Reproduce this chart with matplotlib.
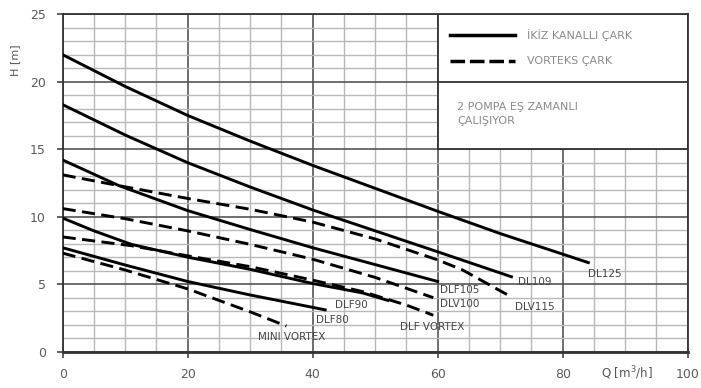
import numpy as np
import matplotlib.pyplot as plt
from matplotlib.patches import Rectangle

# pump curves: Q [m3/h] and H [m]
dl125_q = [0, 10, 20, 30, 40, 50, 60, 70, 84.1]
dl125_h = [22.0, 19.65, 17.5, 15.6, 13.8, 12.1, 10.4, 8.75, 6.6]

dl109_q = [0, 10, 20, 30, 40, 50, 60, 71.8]
dl109_h = [18.3, 16.05, 14.0, 12.2, 10.5, 8.95, 7.4, 5.55]

dlf105_q = [0, 9, 20, 30, 40, 50, 60]
dlf105_h = [14.2, 12.3, 10.45, 9.05, 7.7, 6.45, 5.2]

dlv115_q = [0, 9, 20, 30, 40, 50, 60, 64, 71.8]
dlv115_h = [13.1, 12.3, 11.35, 10.55, 9.6, 8.35, 6.8, 6.05, 4.05]

dlv100_q = [0, 10, 20, 30, 40, 50, 59.3]
dlv100_h = [10.6, 9.85, 8.95, 7.95, 6.85, 5.5, 4.0]

dlf90_q = [0, 5, 11, 20, 30, 40, 48, 52]
dlf90_h = [9.9, 8.95, 7.95, 7.0, 6.1, 5.05, 4.35, 3.8]

dlfv_q = [0, 11, 20, 30, 40, 48, 55, 59.3]
dlfv_h = [8.5, 7.85, 7.1, 6.3, 5.3, 4.45, 3.45, 2.7]

dlf80_q = [0, 10, 20, 30, 42]
dlf80_h = [7.7, 6.42, 5.2, 4.2, 3.1]

mini_q = [0, 10, 20, 30, 35.8]
mini_h = [7.3, 6.05, 4.65, 2.95, 1.9]

solid = [(dl125_q, dl125_h), (dl109_q, dl109_h), (dlf105_q, dlf105_h),
         (dlf90_q, dlf90_h), (dlf80_q, dlf80_h)]
dashed = [(dlv115_q, dlv115_h), (dlv100_q, dlv100_h), (dlfv_q, dlfv_h),
          (mini_q, mini_h)]

# curve names and where they sit
curve_names = ["DL125", "DL109", "DLV115", "DLF105", "DLV100",
               "DLF VORTEX", "DLF90", "DLF80", "MINI VORTEX"]
name_q = [84.0, 72.9, 72.4, 60.4, 60.4, 54.0, 43.6, 40.6, 31.3]
name_h = [5.75, 5.16, 3.33, 4.57, 3.53, 1.85, 3.46, 2.35, 1.09]

fig = plt.figure(figsize=(7.01, 3.88), dpi=100)
ax = fig.add_axes([0.0894, 0.0936, 0.8916, 0.8698])

ax.set_xlim(0, 100)
ax.set_ylim(0, 25)
ax.set_xticks(np.arange(0, 101, 20))
ax.set_xticks(np.arange(0, 101, 5), minor=True)
ax.set_yticks(np.arange(0, 26, 5))
ax.set_yticks(np.arange(0, 26, 1), minor=True)

ax.grid(which="minor", color="#b8b8b8", lw=1.0, zorder=0)
ax.grid(which="major", color="#555555", lw=1.2, zorder=0)
ax.tick_params(which="minor", length=0)
ax.tick_params(which="major", length=4, width=1.2, color="#444444",
               labelsize=9, labelcolor="#5a5a5a", pad=8)
for s in ax.spines.values():
    s.set_color("#333333")
    s.set_linewidth(1.3)
ax.spines["bottom"].set_linewidth(2.0)

# white legend box in the top right corner
ax.add_patch(Rectangle((60, 15), 40, 10, facecolor="white", edgecolor="#333333",
                       lw=1.3, zorder=2))
ax.plot([60, 100], [20, 20], color="#333333", lw=1.3, zorder=3)

for q, h in solid:
    ax.plot(q, h, color="black", lw=2.1, zorder=4)
for q, h in dashed:
    ax.plot(q, h, color="black", lw=2.1, zorder=4, dashes=(4.5, 2.2))

for name, q, h in zip(curve_names, name_q, name_h):
    ax.text(q, h, name, fontsize=7.5, color="#444444", ha="left", va="center",
            zorder=5)

# legend
ax.plot([62.0, 72.4], [23.45, 23.45], color="black", lw=2.5, zorder=4)
ax.plot([62.0, 72.4], [21.55, 21.55], color="black", lw=2.5, zorder=4,
        dashes=(4.2, 1.4))
ax.text(74.3, 23.45, "İKİZ KANALLI ÇARK", fontsize=8, color="#8a8a8a",
        va="center", zorder=5)
ax.text(74.3, 21.55, "VORTEKS ÇARK", fontsize=8, color="#8a8a8a",
        va="center", zorder=5)
ax.text(63.1, 17.6, "2 POMPA EŞ ZAMANLI\nÇALIŞIYOR", fontsize=8,
        color="#8a8a8a", va="center", linespacing=1.6, zorder=5)

ax.text(-0.076, 0.864, "H [m]", transform=ax.transAxes, rotation=90,
        fontsize=8, color="#555555", ha="center", va="center")
ax.text(0.903, -0.063, "Q [m$^3$/h]", transform=ax.transAxes,
        fontsize=8.5, color="#555555", ha="center", va="center")

fig.savefig("out.png", dpi=100)
